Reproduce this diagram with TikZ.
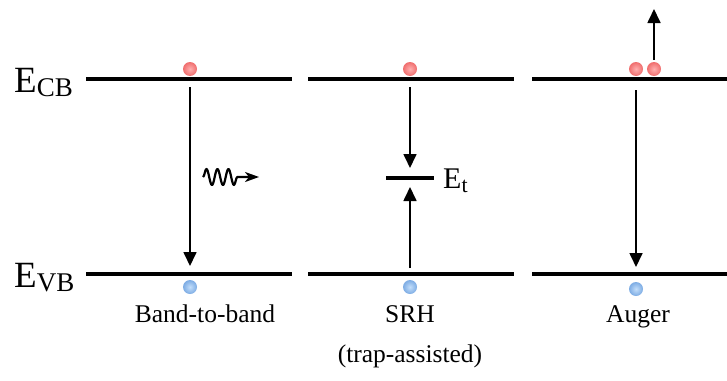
\documentclass[tikz,border=0pt]{standalone}
\usepackage{fontspec}
\setmainfont{Liberation Serif}
\usetikzlibrary{arrows.meta,decorations.pathmorphing}
\definecolor{elecc}{RGB}{240,110,110}
\definecolor{elecl}{RGB}{255,175,175}
\definecolor{holec}{RGB}{125,172,228}
\definecolor{holel}{RGB}{195,222,250}
\newcommand{\bigE}[1]{{\fontsize{37}{42}\selectfont E\raisebox{-4.5pt}{\fontsize{27}{30}\selectfont #1}}}
\begin{document}
\begin{tikzpicture}[x=1pt,y=-1pt,
  level/.style={line width=3.6pt},
  trapline/.style={line width=3.6pt},
  flow/.style={line width=1.7pt,-{Triangle[length=14pt,width=13pt]}},
  elec/.style={circle,minimum size=14pt,inner sep=0pt,shading=radial,inner color=elecl,outer color=elecc},
  hole/.style={circle,minimum size=14pt,inner sep=0pt,shading=radial,inner color=holel,outer color=holec},
  lab/.style={font=\fontsize{25.5}{30}\selectfont,align=center,anchor=base}]
\useasboundingbox (0,0) rectangle (727,380);
% levels
\draw[level] (86,79) -- (292,79);
\draw[level] (308,79) -- (514,79);
\draw[level] (532,79) -- (727,79);
\draw[level] (86,274) -- (292,274);
\draw[level] (308,274) -- (514,274);
\draw[level] (532,274) -- (727,274);
% level labels
\node[anchor=base west,inner sep=0pt] (ecb) at (14,92) {\bigE{CB}};
\node[anchor=base west,inner sep=0pt] (evb) at (14,287) {\bigE{VB}};
% carriers
\node[elec] (e1) at (190,69) {};
\node[hole] (h1) at (190,287) {};
\node[elec] (e2) at (410,69) {};
\node[hole] (h2) at (410,287) {};
\node[elec] (e3a) at (636,69) {};
\node[elec] (e3b) at (654,69) {};
\node[hole] (h3) at (636,289) {};
% band-to-band
\coordinate (a1s) at (190,87);
\coordinate (a1e) at (190,266);
\draw[flow] (a1s) -- (a1e);
\coordinate (ws) at (203,177);
\coordinate (we) at (259,177);
\draw[line width=2.2pt,line join=round,decorate,decoration={snake,segment length=11pt,amplitude=8pt,post length=18pt},-{Stealth[length=14pt,width=10pt,inset=4pt]}] (ws) -- (we);
% SRH
\node[inner sep=0pt,minimum width=47pt,minimum height=0pt] (trap) at (410,178) {};
\draw[trapline] (trap.west) -- (trap.east);
\node[anchor=west,inner sep=0pt] (et) at (443,181) {{\fontsize{30}{34}\selectfont E\raisebox{-4.5pt}{\fontsize{22}{26}\selectfont t}}};
\coordinate (a2s) at (410,87);
\coordinate (a2e) at (410,168);
\draw[flow] (a2s) -- (a2e);
\coordinate (a3s) at (410,268);
\coordinate (a3e) at (410,187);
\draw[flow] (a3s) -- (a3e);
% Auger
\coordinate (a4s) at (636,90);
\coordinate (a4e) at (636,267);
\draw[flow] (a4s) -- (a4e);
\coordinate (a5e) at (654,9);
\draw[flow] (e3b.north) ++(0,-2) coordinate (a5s) -- (a5e);
% labels
\node[lab] (l1) at (205,322) {Band-to-band};
\node[lab] (l2) at (410,322) {SRH};
\node[lab] (l3) at (410,362) {(trap-assisted)};
\node[lab] (l4) at (638,322) {Auger};
\end{tikzpicture}
\end{document}
